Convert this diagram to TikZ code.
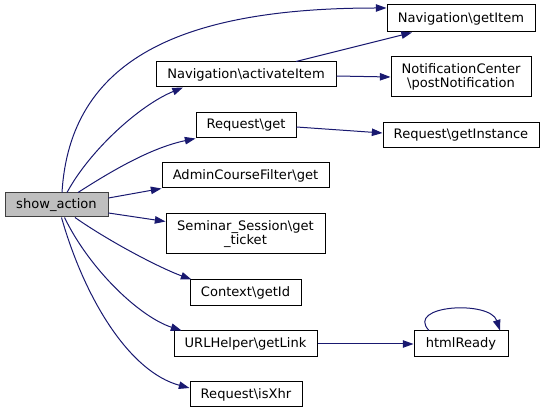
\documentclass[tikz,border=0pt]{standalone}
\usepackage{fontspec}
\setmainfont{DejaVu Sans}
\usetikzlibrary{arrows.meta,calc}
\definecolor{edgeblue}{HTML}{191970}
\begin{document}
\begin{tikzpicture}[x=0.75pt,y=-0.75pt,
  box/.style={draw=black, fill=white, line width=0.75pt, inner sep=0pt, align=center,
    font=\fontsize{9.8}{10.5}\selectfont},
  rootbox/.style={box, draw=black!75, fill=black!25},
  edge/.style={draw=edgeblue, line width=0.75pt, -{Triangle[length=8pt,width=5.6pt]}}]
\useasboundingbox (0,0) rectangle (544,413);
\node[rootbox, minimum width=77.25pt, minimum height=18pt] (sa) at (56.5,205) {show\_action};
\node[box, minimum width=135pt, minimum height=18.75pt] (act) at (246,74.5) {Navigation\textbackslash activateItem};
\node[box, minimum width=111pt, minimum height=20.25pt] (gi) at (461,18.5) {Navigation\textbackslash getItem};
\node[box, minimum width=105pt, minimum height=30pt] (nc) at (461,77) {NotificationCenter\\\textbackslash postNotification};
\node[box, minimum width=75pt, minimum height=18.75pt] (rg) at (246,125.5) {Request\textbackslash get};
\node[box, minimum width=117pt, minimum height=18.75pt] (ri) at (461,135.5) {Request\textbackslash getInstance};
\node[box, minimum width=125.25pt, minimum height=18.75pt] (acf) at (245.5,175.5) {AdminCourseFilter\textbackslash get};
\node[box, minimum width=119.25pt, minimum height=30pt] (ss) at (245.5,234) {Seminar\_Session\textbackslash get\\\_ticket};
\node[box, minimum width=83.25pt, minimum height=19.5pt] (ctx) at (245.5,293) {Context\textbackslash getId};
\node[box, minimum width=107.25pt, minimum height=19.5pt] (url) at (245.5,344) {URLHelper\textbackslash getLink};
\node[box, minimum width=84pt, minimum height=18.75pt] (xhr) at (246,394.5) {Request\textbackslash isXhr};
\node[box, minimum width=70.5pt, minimum height=19.5pt] (hr) at (461,344) {htmlReady};

\draw[edge] ($(sa.north)+(5.5,0)$) .. controls (70,60) and (180,8) .. ($(gi.west)+(0,-10.5)$);
\draw[edge] ($(sa.north)+(10.5,0)$) .. controls (90,150) and (140,105) .. ($(act.south)+(-63,0)$);
\draw[edge] ($(sa.north)+(21.5,0)$) .. controls (110,172) and (150,148) .. (rg.south west);
\draw[edge] ($(sa.east)+(0,-7)$) -- (acf.south west);
\draw[edge] ($(sa.east)+(0,8)$) -- ($(ss.north west)+(0,8)$);
\draw[edge] ($(sa.south)+(18.5,0)$) .. controls (110,242) and (160,268) .. ($(ctx.north west)+(2,0)$);
\draw[edge] ($(sa.south)+(8,0)$) .. controls (90,270) and (140,317) .. ($(url.north west)+(8,0)$);
\draw[edge] ($(sa.south)+(5,0)$) .. controls (85,300) and (130,372) .. ($(xhr.west)+(0,-6.5)$);
\draw[edge] ($(act.north)+(50,0)$) -- ($(gi.south)+(-49,0)$);
\draw[edge] ($(act.east)+(0,1.5)$) -- (nc.west);
\draw[edge] ($(rg.east)+(0,1.5)$) -- ($(ri.west)+(0,-2.5)$);
\draw[edge] (url.east) -- (hr.west);
\draw[edge] ($(hr.north)+(-32,0)$) .. controls (405,305) and (490,300) .. ($(hr.north)+(39,0)$);
\end{tikzpicture}
\end{document}
